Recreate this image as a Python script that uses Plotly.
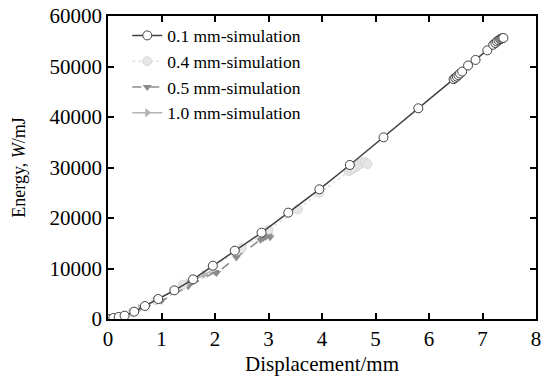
import plotly.graph_objects as go

# 0.1 mm simulation
x01 = [0, 0.1, 0.2, 0.31, 0.49, 0.69, 0.94, 1.24, 1.59, 1.96, 2.37, 2.87, 3.37, 3.95, 4.52,
       5.15, 5.80, 6.46, 6.49, 6.52, 6.55, 6.58, 6.62, 6.73, 6.87, 7.09, 7.20, 7.24, 7.27,
       7.30, 7.33, 7.35, 7.37, 7.39]
y01 = [0, 200, 400, 660, 1450, 2570, 3960, 5680, 7850, 10560, 13530, 17100, 21060, 25680, 30500,
       35970, 41720, 47500, 47750, 48000, 48300, 48600, 49000, 50200, 51300, 53200, 54300, 54650,
       54950, 55200, 55400, 55500, 55600, 55650]
# 0.4 mm simulation
x04 = [0, 0.45, 0.9, 1.4, 1.95, 2.5, 3.0, 3.55, 3.95, 4.5, 4.55, 4.6, 4.65, 4.7, 4.75, 4.8, 4.85]
y04 = [0, 1350, 3700, 6800, 10300, 14000, 17700, 21700, 25000, 29300, 29600, 29900, 30200,
       30600, 31000, 31100, 30700]
# 0.5 mm simulation
x05 = [0, 0.5, 1.0, 1.5, 2.0, 2.03, 2.4, 2.85, 2.9, 2.95, 3.0, 3.03]
y05 = [0, 1400, 3600, 6500, 9300, 9100, 12200, 15700, 16000, 16300, 16600, 16200]
# 1.0 mm simulation
x10 = [0, 0.3, 0.6, 0.9, 1.2, 1.5, 1.8, 1.95]
y10 = [0, 700, 2100, 3800, 5400, 7100, 8800, 9600]

names = ["0.1 mm-simulation", "0.4 mm-simulation", "0.5 mm-simulation", "1.0 mm-simulation"]

FONT = "Liberation Serif, Times New Roman, serif"
fig = go.Figure()

fig.add_trace(go.Scatter(x=x10, y=y10, name=names[3], mode="lines+markers", legendrank=4,
                         line=dict(color="#b4b4b4", width=1.5),
                         marker=dict(symbol="triangle-right", size=8, color="#b4b4b4")))
fig.add_trace(go.Scatter(x=x05, y=y05, name=names[2], mode="lines+markers", legendrank=3,
                         line=dict(color="#8c8c8c", width=1.5, dash="dash"),
                         marker=dict(symbol="triangle-down", size=8, color="#8c8c8c")))
fig.add_trace(go.Scatter(x=x04, y=y04, name=names[1], mode="lines+markers", legendrank=2,
                         line=dict(color="#e0e0e0", width=1.5, dash="dot"),
                         marker=dict(symbol="circle", size=9, color="#e6e6e6",
                                     line=dict(color="#d8d8d8", width=1))))
fig.add_trace(go.Scatter(x=x01, y=y01, name=names[0], mode="lines+markers", legendrank=1,
                         line=dict(color="#404040", width=1.5),
                         marker=dict(symbol="circle", size=9, color="white",
                                     line=dict(color="#404040", width=1))))

axis_common = dict(showgrid=False, zeroline=False, showline=True, linecolor="black", linewidth=1.5,
                   ticks="inside", ticklen=6, tickwidth=1.5, tickcolor="black", mirror="ticks",
                   automargin=False,
                   tickfont=dict(family=FONT, size=21, color="black"))

fig.update_xaxes(range=[0, 8], dtick=1, title=dict(text="Displacement/mm",
                 font=dict(family=FONT, size=21, color="black"), standoff=10), **axis_common)
fig.update_yaxes(range=[0, 60000], dtick=10000, tickformat="d",
                 title=dict(text="Energy, <i>W</i>/mJ", font=dict(family=FONT, size=18, color="black"),
                            standoff=19), **axis_common)

fig.update_layout(
    width=543, height=376,
    margin=dict(l=108, r=7, t=16, b=57),
    plot_bgcolor="white", paper_bgcolor="white",
    font=dict(family=FONT, color="black"),
    legend=dict(x=0.045, y=0.995, xanchor="left", yanchor="top", bgcolor="rgba(0,0,0,0)",
                font=dict(family=FONT, size=17.5, color="black"), tracegroupgap=0,
                itemwidth=30),
    showlegend=True,
)

fig.write_html("out.html")
